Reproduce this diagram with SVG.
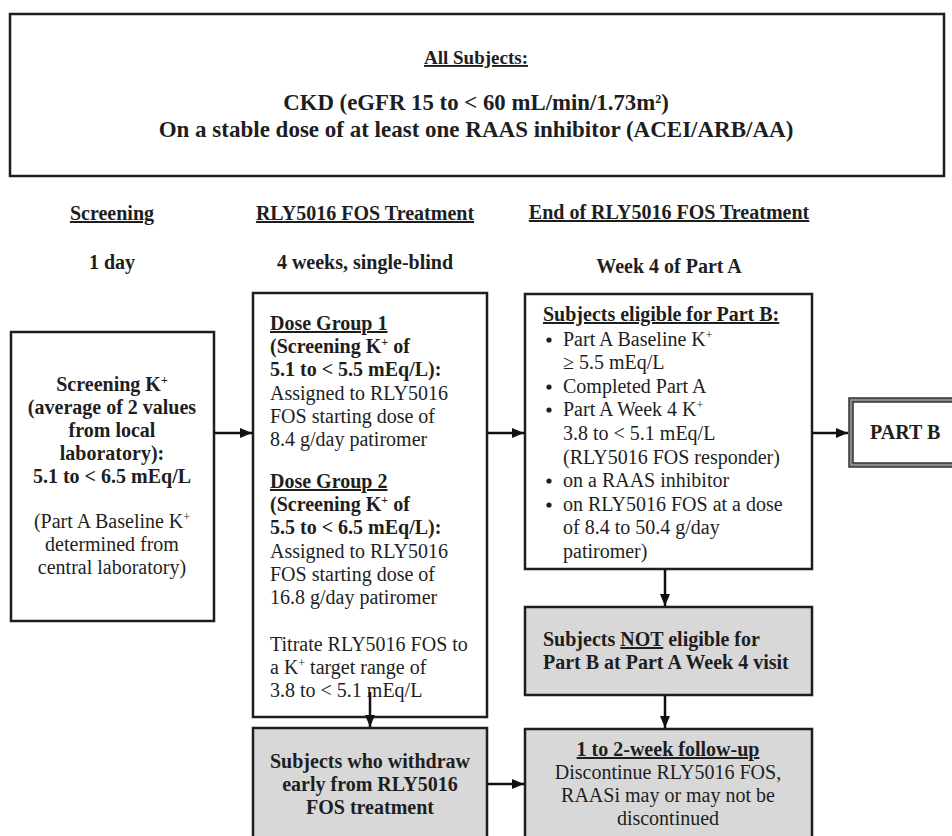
<svg xmlns="http://www.w3.org/2000/svg" width="952" height="836" viewBox="0 0 952 836">
<style>
text{font-family:"Liberation Serif","Times New Roman",serif;font-size:20px;fill:#1e1e1e}
.b{font-weight:bold}
.u{text-decoration:underline}
.c{text-anchor:middle}
.box{fill:#fff;stroke:#1e1e1e;stroke-width:2.5}
.gray{fill:#d8d8d8;stroke:#1e1e1e;stroke-width:2.5}
.con{stroke:#111;stroke-width:2.5;fill:none}
.sup{font-size:12px}
</style>
<defs>
<marker id="ah" markerUnits="userSpaceOnUse" markerWidth="12" markerHeight="10" refX="12" refY="5" orient="auto">
<path d="M0,0 L12,5 L0,10 z" fill="#111"/>
</marker>
</defs>
<rect width="952" height="836" fill="#fff"/>

<g id="all-subjects">
<rect class="box" x="10" y="14" width="934" height="162"/>
<text class="b u c" x="476" y="64" style="font-size:19px">All Subjects:</text>
<text class="b c" x="476" y="110" style="font-size:22.8px">CKD (eGFR 15 to &lt; 60 mL/min/1.73m<tspan class="sup" baseline-shift="super">2</tspan>)</text>
<text class="b c" x="476" y="137" style="font-size:23px">On a stable dose of at least one RAAS inhibitor (ACEI/ARB/AA)</text>
</g>

<g id="headers">
<text class="b u c" x="112" y="220">Screening</text>
<text class="b c" x="112" y="269">1 day</text>
<text class="b u c" x="365" y="220">RLY5016 FOS Treatment</text>
<text class="b c" x="365" y="269">4 weeks, single-blind</text>
<text class="b u c" x="669" y="219">End of RLY5016 FOS Treatment</text>
<text class="b c" x="669" y="273">Week 4 of Part A</text>
</g>

<g id="screening">
<rect class="box" x="11" y="332" width="203" height="289"/>
<text class="b c" x="112" y="391">Screening K<tspan class="sup" baseline-shift="super">+</tspan></text>
<text class="b c" x="112" y="414">(average of 2 values</text>
<text class="b c" x="112" y="437">from local</text>
<text class="b c" x="112" y="460">laboratory):</text>
<text class="b c" x="112" y="483">5.1 to &lt; 6.5 mEq/L</text>
<text class="c" x="112" y="528">(Part A Baseline K<tspan class="sup" baseline-shift="super">+</tspan></text>
<text class="c" x="112" y="551">determined from</text>
<text class="c" x="112" y="574">central laboratory)</text>
</g>

<g id="dose-groups">
<rect class="box" x="253" y="293" width="234" height="424"/>
<text class="b u" x="270" y="330">Dose Group 1</text>
<text class="b" x="270" y="353">(Screening K<tspan class="sup" baseline-shift="super">+</tspan> of</text>
<text class="b" x="270" y="376">5.1 to &lt; 5.5 mEq/L):</text>
<text x="270" y="400">Assigned to RLY5016</text>
<text x="270" y="423">FOS starting dose of</text>
<text x="270" y="446">8.4 g/day patiromer</text>
<text class="b u" x="270" y="488">Dose Group 2</text>
<text class="b" x="270" y="511">(Screening K<tspan class="sup" baseline-shift="super">+</tspan> of</text>
<text class="b" x="270" y="534">5.5 to &lt; 6.5 mEq/L):</text>
<text x="270" y="558">Assigned to RLY5016</text>
<text x="270" y="581">FOS starting dose of</text>
<text x="270" y="604">16.8 g/day patiromer</text>
<text x="270" y="651">Titrate RLY5016 FOS to</text>
<text x="270" y="674">a K<tspan class="sup" baseline-shift="super">+</tspan> target range of</text>
<text x="270" y="697">3.8 to &lt; 5.1 mEq/L</text>
</g>

<g id="withdraw">
<rect class="gray" x="253" y="728" width="234" height="120"/>
<text class="b c" x="370" y="768">Subjects who withdraw</text>
<text class="b c" x="370" y="791">early from RLY5016</text>
<text class="b c" x="370" y="814">FOS treatment</text>
</g>

<g id="eligible">
<rect class="box" x="525" y="294" width="287" height="275"/>
<text class="b u" x="543" y="321">Subjects eligible for Part B:</text>
<g fill="#1e1e1e">
<circle cx="549" cy="340" r="2.6"/>
<circle cx="549" cy="387" r="2.6"/>
<circle cx="549" cy="410" r="2.6"/>
<circle cx="549" cy="481" r="2.6"/>
<circle cx="549" cy="505" r="2.6"/>
</g>
<text x="563" y="346">Part A Baseline K<tspan class="sup" baseline-shift="super">+</tspan></text>
<text x="563" y="369">≥ 5.5 mEq/L</text>
<text x="563" y="393">Completed Part A</text>
<text x="563" y="416">Part A Week 4 K<tspan class="sup" baseline-shift="super">+</tspan></text>
<text x="563" y="440">3.8 to &lt; 5.1 mEq/L</text>
<text x="563" y="464">(RLY5016 FOS responder)</text>
<text x="563" y="487">on a RAAS inhibitor</text>
<text x="563" y="511">on RLY5016 FOS at a dose</text>
<text x="563" y="534">of 8.4 to 50.4 g/day</text>
<text x="563" y="558">patiromer)</text>
</g>

<g id="part-b">
<rect x="849" y="398" width="140" height="69" fill="#8a8a8a" stroke="#333" stroke-width="1.5"/>
<rect x="853" y="402" width="140" height="61" fill="#fff" stroke="#333" stroke-width="1.5"/>
<text class="b" x="870" y="439">PART B</text>
</g>

<g id="not-eligible">
<rect class="gray" x="525" y="607" width="287" height="88"/>
<text class="b" x="543" y="646">Subjects <tspan class="u">NOT</tspan> eligible for</text>
<text class="b" x="543" y="669">Part B at Part A Week 4 visit</text>
</g>

<g id="follow-up">
<rect class="gray" x="525" y="729" width="287" height="120"/>
<text class="b u c" x="668" y="756">1 to 2-week follow-up</text>
<text class="c" x="668" y="779">Discontinue RLY5016 FOS,</text>
<text class="c" x="668" y="802">RAASi may or may not be</text>
<text class="c" x="668" y="825">discontinued</text>
</g>

<g id="connectors">
<path class="con" d="M214,433 H252" marker-end="url(#ah)"/>
<path class="con" d="M487,433 H524" marker-end="url(#ah)"/>
<path class="con" d="M812,433 H848" marker-end="url(#ah)"/>
<path class="con" d="M370,692 V727" marker-end="url(#ah)"/>
<path class="con" d="M487,784 H524" marker-end="url(#ah)"/>
<path class="con" d="M665,569 V606" marker-end="url(#ah)"/>
<path class="con" d="M665,695 V728" marker-end="url(#ah)"/>
</g>
</svg>
